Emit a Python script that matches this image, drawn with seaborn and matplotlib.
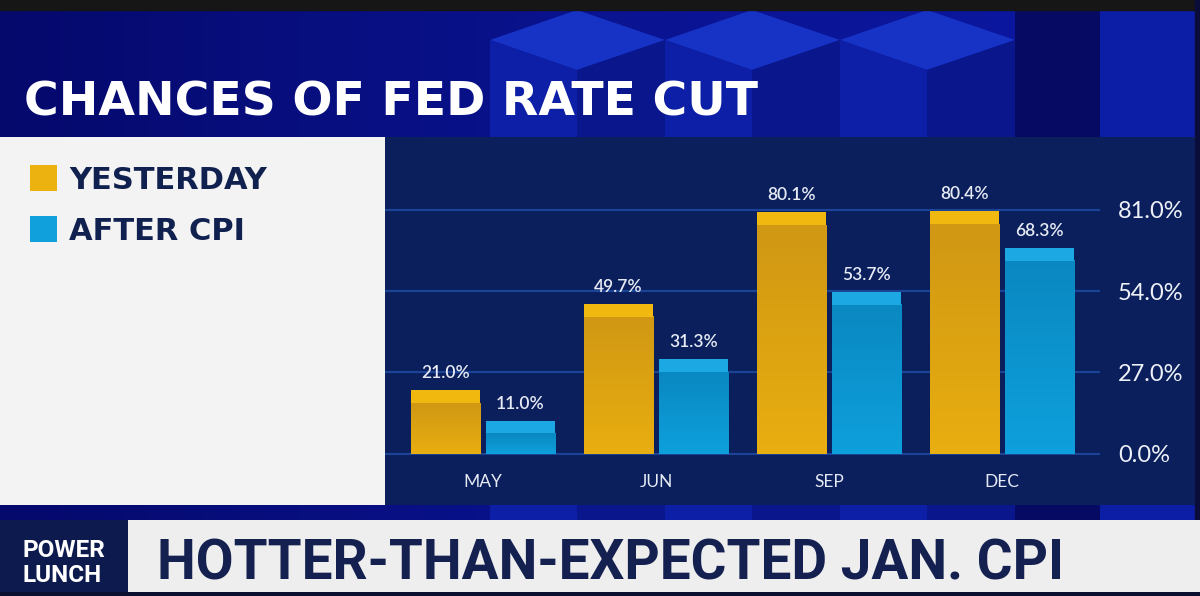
import numpy as np
import pandas as pd
import matplotlib
matplotlib.use("Agg")
import matplotlib.pyplot as plt
import seaborn as sns
from matplotlib.patches import Rectangle, Polygon
from matplotlib.colors import LinearSegmentedColormap

months = ["MAY", "JUN", "SEP", "DEC"]
series = ["YESTERDAY", "AFTER CPI"]
yesterday = [21.0, 49.7, 80.1, 80.4]
after_cpi = [11.0, 31.3, 53.7, 68.3]
yticks = [0.0, 27.0, 54.0, 81.0]

TITLE = "CHANCES OF FED RATE CUT"
SHOW = ["POWER", "LUNCH"]
HEADLINE = "HOTTER-THAN-EXPECTED JAN. CPI"

YELLOW = "#ebb210"
BLUE = "#10a0dc"
# top band, body just under band, body at bottom
SHADES = [("#f1b80f", "#d09814", "#e9ae10"),
          ("#1ca8e2", "#0a88c1", "#0ea0dc")]
NAVY_TXT = "#10204f"
PANEL = "#0a1f5c"
GRID = "#1b4396"

W, H = 1200, 596

sns.set_theme(style="white")
plt.rcParams["font.family"] = ["Lato", "DejaVu Sans"]
HEAVY = ["DejaVu Sans"]

fig = plt.figure(figsize=(W / 100, H / 100), dpi=100)

# background layer in pixel coordinates
bg = fig.add_axes([0, 0, 1, 1])
bg.set_xlim(0, W)
bg.set_ylim(H, 0)
bg.axis("off")

grad = np.linspace(0, 1, 256).reshape(1, -1)
bg_cmap = LinearSegmentedColormap.from_list("bgblue", ["#05096c", "#0a1390", "#0b18a4"])
bg.imshow(grad, extent=[0, W, H, 0], cmap=bg_cmap, aspect="auto", zorder=0)

# cube pattern in the header
for cx in [577, 752, 927]:
    bg.add_patch(Polygon([(cx - 87, 40), (cx, 10), (cx + 88, 40), (cx, 70)],
                         color="#1633c6", zorder=1, lw=0))
    bg.add_patch(Polygon([(cx - 87, 40), (cx, 70), (cx, H), (cx - 87, H)],
                         color="#0d1fa6", zorder=1, lw=0))
    bg.add_patch(Polygon([(cx, 70), (cx + 88, 40), (cx + 88, H), (cx, H)],
                         color="#0a168c", zorder=1, lw=0))
bg.add_patch(Rectangle((1015, 10), 85, H, color="#060a62", zorder=1, lw=0))
bg.add_patch(Polygon([(1100, 10), (1195, 10), (1195, H), (1100, H)],
                     color="#0d1ea6", zorder=1, lw=0))
bg.add_patch(Rectangle((0, 0), W, 10, color="#161616", zorder=2))
bg.add_patch(Rectangle((1195, 0), 5, H, color="#0a0c3a", zorder=2))

bg.text(24, 115, TITLE, color="white", fontsize=34, fontweight="bold",
        family=HEAVY, va="baseline", ha="left", zorder=3)

# panels
bg.add_patch(Rectangle((0, 137), 385, 368, color="#f3f3f3", zorder=2, lw=0))
bg.add_patch(Rectangle((385, 137), 810, 368, color=PANEL, zorder=2, lw=0))

# legend
for i, (name, col) in enumerate(zip(series, [YELLOW, BLUE])):
    top = 165 + i * 51
    bg.add_patch(Rectangle((30, top), 27, 26, color=col, zorder=3, lw=0))
    bg.text(69, top + 24, name, color=NAVY_TXT, fontsize=22, fontweight="bold",
            family=HEAVY, va="baseline", ha="left", zorder=3)

# bottom banner
bg.add_patch(Rectangle((0, 520), 128, 72, color="#0c1a4e", zorder=2, lw=0))
bg.add_patch(Rectangle((128, 520), W - 128, 72, color="#eeeeee", zorder=2, lw=0))
bg.add_patch(Rectangle((0, 592), W, 4, color="#0a0f30", zorder=2, lw=0))
for j, word in enumerate(SHOW):
    bg.text(22, 557 + j * 25, word, color="white", fontsize=17.5, fontweight="bold",
            family=["Roboto", "DejaVu Sans"], va="baseline", ha="left", zorder=3)
bg.text(157, 580, HEADLINE, color="#14204f", fontsize=39.5, fontweight="bold",
        family=["Roboto", "DejaVu Sans"], va="baseline", ha="left", zorder=3)

# ---- bar chart ----
ax = fig.add_axes([385 / W, 1 - 455 / H, (1100 - 385) / W, (455 - 137) / H])
ax.patch.set_alpha(0)

df = pd.DataFrame({
    "month": months * 2,
    "series": [series[0]] * len(months) + [series[1]] * len(months),
    "value": yesterday + after_cpi,
})
sns.barplot(data=df, x="month", y="value", hue="series", palette=[YELLOW, BLUE],
            width=0.867, gap=0.08, saturation=1, errorbar=None, legend=False,
            linewidth=0, ax=ax, zorder=3)

band = 4.2
body = np.linspace(0, 1, 64).reshape(-1, 1)
for container, vals, (c_top, c_mid, c_bot) in zip(ax.containers, [yesterday, after_cpi], SHADES):
    cmap = LinearSegmentedColormap.from_list("body", [c_mid, c_bot])
    for bar in container:
        x0, w, h = bar.get_x(), bar.get_width(), bar.get_height()
        ax.imshow(body, extent=[x0, x0 + w, 0, h - band], cmap=cmap,
                  aspect="auto", zorder=4)
        ax.add_patch(Rectangle((x0, h - band), w, band, color=c_top, lw=0, zorder=4))
    ax.bar_label(container, labels=[f"{v:.1f}%" for v in vals], padding=6.5,
                 color="#e6eaf4", fontsize=12.5, fontweight="semibold", zorder=5)

ax.set_xlim(-0.566, 3.566)
ax.set_ylim(-0.4, 105.1)
ax.set_xlabel("")
ax.set_ylabel("")
ax.set_yticks(yticks)
ax.set_yticklabels([f"{t:.1f}%" for t in yticks])
ax.yaxis.tick_right()
ax.tick_params(axis="x", length=0, pad=14, labelsize=12.5, labelcolor="#e6eaf4")
ax.tick_params(axis="y", length=0, pad=13, labelsize=17, labelcolor="#eef1f8")
ax.grid(axis="y", color=GRID, linewidth=1.6)
ax.grid(axis="x", visible=False)
ax.set_axisbelow(True)
for s in ax.spines.values():
    s.set_visible(False)

fig.savefig("out.png", dpi=100)
